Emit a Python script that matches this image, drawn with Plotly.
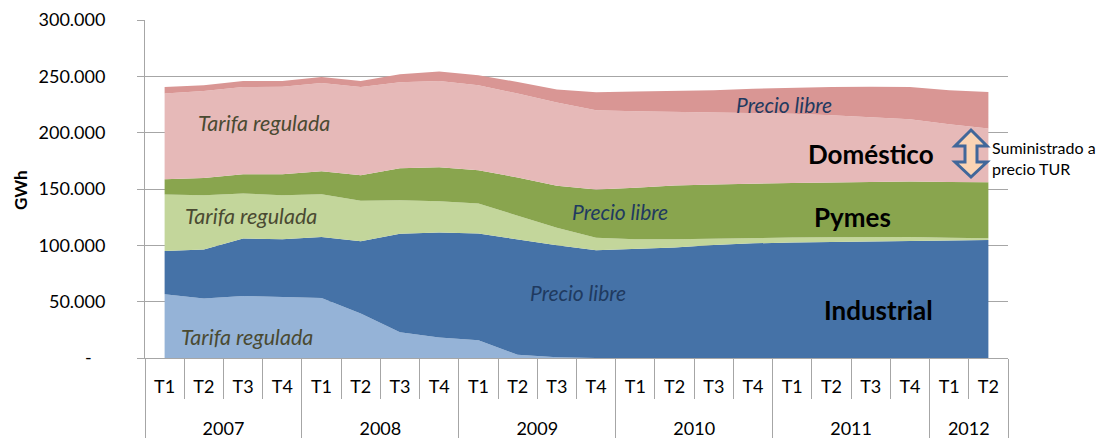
import plotly.graph_objects as go

# Quarterly electricity consumption (GWh) by segment and supply type
years = ["2007"] * 4 + ["2008"] * 4 + ["2009"] * 4 + ["2010"] * 4 + ["2011"] * 4 + ["2012"] * 2
quarters = ["T1", "T2", "T3", "T4"] * 5 + ["T1", "T2"]

industrial_tarifa = [56500, 52900, 55000, 53800, 53200, 39600, 22800, 18300, 15800, 2800, 600,
                     0, 0, 0, 0, 0, 0, 0, 0, 0, 0, 0]
industrial_libre = [38400, 43400, 51100, 51700, 54100, 64100, 87400, 93100, 94700, 102700, 99400,
                    95700, 96900, 98100, 100400, 101800, 102500, 103000, 103500, 104000, 104400, 104700]
pymes_tarifa = [50200, 48200, 39900, 39000, 38100, 35800, 29900, 27800, 26600, 21000, 15500,
                11100, 8600, 7400, 5700, 4700, 4400, 4100, 3800, 3500, 2400, 1600]
pymes_libre = [13600, 15300, 17100, 18600, 20400, 22700, 28300, 30100, 29600, 33700, 37300,
               42800, 45500, 47500, 47900, 48400, 48500, 48600, 48700, 49100, 49400, 49700]
domestico_tarifa = [76000, 77200, 77400, 77700, 78200, 78300, 76300, 76500, 75300, 74500, 73900,
                    70300, 68000, 65400, 64400, 62600, 61500, 59700, 57900, 55300, 51200, 47600]
domestico_libre = [5800, 5000, 5300, 5000, 5400, 5300, 7100, 8600, 8900, 10300, 11600,
                   16000, 17500, 18600, 19200, 21500, 23100, 25100, 26900, 28600, 30200, 32400]

y_ticks = [0, 50000, 100000, 150000, 200000, 250000, 300000]
y_ticklabels = ["-\u00a0\u00a0\u00a0", "50.000", "100.000", "150.000", "200.000", "250.000", "300.000"]

COLORS = {
    "ind_tarifa": "#95B3D7",
    "ind_libre": "#4572A7",
    "pym_tarifa": "#C3D69B",
    "pym_libre": "#89A54E",
    "dom_tarifa": "#E6B9B8",
    "dom_libre": "#D99694",
    "grid": "#A6A6A6",
    "tarifa_txt": "#4A4A32",
    "libre_txt": "#1F3A60",
}
FONT = "Lato, 'Open Sans', sans-serif"

# plot area in pixels (for placing labels / the arrow)
L, R, T, B = 145, 1008, 20, 358
W_PX, H_PX = 1111, 438


def px(x):
    return (x - L) / (R - L)


def py(y):
    return (B - y) / (B - T)


n = len(quarters)
xi = list(range(n))

# year groups: centre for the label, boundaries for the separators
year_names = list(dict.fromkeys(years))
year_centers = [sum(i for i in xi if years[i] == yr) / years.count(yr) for yr in year_names]
year_bounds = [-0.5] + [i - 0.5 for i in xi[1:] if years[i] != years[i - 1]] + [n - 0.5]

fig = go.Figure()
for vals, col, name in [
    (industrial_tarifa, "ind_tarifa", "Industrial - Tarifa regulada"),
    (industrial_libre, "ind_libre", "Industrial - Precio libre"),
    (pymes_tarifa, "pym_tarifa", "Pymes - Tarifa regulada"),
    (pymes_libre, "pym_libre", "Pymes - Precio libre"),
    (domestico_tarifa, "dom_tarifa", "Doméstico - Tarifa regulada"),
    (domestico_libre, "dom_libre", "Doméstico - Precio libre"),
]:
    fig.add_trace(go.Scatter(
        x=xi, y=vals,
        customdata=[f"{y} {q}" for y, q in zip(years, quarters)],
        hovertemplate="%{customdata}: %{y:,.0f} GWh<extra>" + name + "</extra>",
        mode="lines",
        stackgroup="one",
        line=dict(width=0, color=COLORS[col]),
        fillcolor=COLORS[col],
        name=name,
        showlegend=False,
    ))

# invisible helper so the year axis (xaxis2) gets drawn
fig.add_trace(go.Scatter(
    x=year_centers, y=[0] * len(year_centers),
    xaxis="x2", yaxis="y",
    mode="lines", line=dict(width=0),
    hoverinfo="skip", showlegend=False,
))

# ── in-chart labels ─────────────────────────────────────────────────────
labels = [
    ("Tarifa regulada", 264, 123, COLORS["tarifa_txt"], 21.5, False),
    ("Tarifa regulada", 251, 216, COLORS["tarifa_txt"], 21.5, False),
    ("Tarifa regulada", 247, 337, COLORS["tarifa_txt"], 21.5, False),
    ("Precio libre", 578, 292, COLORS["libre_txt"], 21, False),
    ("Precio libre", 620, 211, COLORS["libre_txt"], 21, False),
    ("Precio libre", 784, 104, COLORS["libre_txt"], 21, False),
    ("<b>Doméstico</b>", 871, 154, "#000000", 26, True),
    ("<b>Pymes</b>", 852, 217, "#000000", 26, True),
    ("<b>Industrial</b>", 878, 310, "#000000", 26, True),
]
for text, lx, ly, color, size, bold in labels:
    fig.add_annotation(
        x=px(lx), y=py(ly), xref="paper", yref="paper",
        text=text if bold else f"<i>{text}</i>",
        showarrow=False,
        font=dict(family=FONT, size=size, color=color),
        xanchor="center", yanchor="middle",
    )

fig.add_annotation(
    x=px(990), y=py(158), xref="paper", yref="paper",
    text="Suministrado a<br>precio TUR",
    showarrow=False, align="left",
    font=dict(family=FONT, size=16, color="#000000"),
    xanchor="left", yanchor="middle",
)

fig.add_annotation(
    x=px(20), y=py(190), xref="paper", yref="paper",
    text="<b>GWh</b>", textangle=-90,
    showarrow=False,
    font=dict(family=FONT, size=17, color="#000000"),
    xanchor="center", yanchor="middle",
)

# double-headed arrow (TUR range)
pts = [(971, 130), (987, 146), (977, 146), (977, 162), (987, 162), (971, 177),
       (955, 162), (965, 162), (965, 146), (955, 146)]
path = "M " + " L ".join(f"{px(a):.5f},{py(b):.5f}" for a, b in pts) + " Z"
fig.add_shape(
    type="path", path=path, xref="paper", yref="paper",
    fillcolor="#FBD4B4", line=dict(color="#41679A", width=3),
)

fig.update_layout(
    width=W_PX, height=H_PX,
    paper_bgcolor="white",
    plot_bgcolor="white",
    font=dict(family=FONT, size=18, color="#000000"),
    margin=dict(l=L, r=W_PX - R, t=T, b=H_PX - B, autoexpand=False),
    showlegend=False,
    # quarter row
    xaxis=dict(
        range=[-0.5, n - 0.5],
        automargin=False,
        tickvals=xi, ticktext=quarters,
        showgrid=False, zeroline=False,
        showline=True, linecolor=COLORS["grid"], linewidth=1,
        ticks="",
        minor=dict(tickvals=[i - 0.5 for i in range(n + 1)], ticks="outside",
                   ticklen=40, tickcolor=COLORS["grid"], showgrid=False),
        ticklabelstandoff=12,
        tickfont=dict(family=FONT, size=18, color="#000000"),
    ),
    # year row
    xaxis2=dict(
        overlaying="x", anchor="y", side="bottom",
        range=[-0.5, n - 0.5],
        automargin=False,
        tickvals=year_centers, ticktext=year_names,
        showgrid=False, zeroline=False, showline=False,
        ticks="",
        minor=dict(tickvals=year_bounds, ticks="outside",
                   ticklen=80, tickcolor=COLORS["grid"], showgrid=False),
        ticklabelstandoff=58,
        tickfont=dict(family=FONT, size=18, color="#000000"),
    ),
    yaxis=dict(
        range=[0, 300000],
        automargin=False,
        tickvals=y_ticks, ticktext=y_ticklabels,
        showgrid=True, gridcolor=COLORS["grid"], gridwidth=1,
        zeroline=False,
        showline=True, linecolor=COLORS["grid"], linewidth=1,
        ticks="outside", ticklen=7, tickcolor=COLORS["grid"],
        ticklabelstandoff=28,
        tickfont=dict(family=FONT, size=18, color="#000000"),
    ),
)

# page body margin would shift the figure by 8px
fig.write_html("out.html", config={"displayModeBar": False},
               post_script="document.body.style.margin='0';")
